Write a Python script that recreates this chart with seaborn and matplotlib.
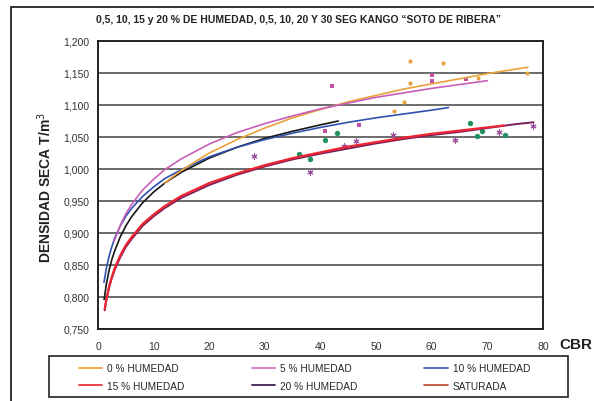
import matplotlib
matplotlib.use("Agg")
import matplotlib.pyplot as plt
from matplotlib.lines import Line2D
from matplotlib.patches import Rectangle
import pandas as pd
import seaborn as sns

# ---- trend curves (CBR vs dry density) ----
x_0 = [12, 15, 20, 25, 30, 35, 40, 45, 50, 55, 60, 65, 70, 75, 77.3]
y_0 = [0.978, 0.998, 1.025, 1.046, 1.064, 1.080, 1.093, 1.105, 1.115,
       1.125, 1.133, 1.141, 1.149, 1.156, 1.159]

x_5 = [2.9, 4, 5, 6, 8, 10, 12, 15, 20, 25, 30, 35, 40, 45, 50, 55, 60, 65, 70]
y_5 = [0.887, 0.912, 0.930, 0.944, 0.967, 0.984, 0.999, 1.016, 1.039, 1.057,
       1.071, 1.083, 1.094, 1.103, 1.112, 1.119, 1.126, 1.132, 1.138]

x_10 = [1.08, 1.5, 2, 2.5, 3, 4, 5, 6, 8, 10, 12, 15, 20, 25, 30, 35, 40, 45,
        50, 55, 60, 63]
y_10 = [0.823, 0.845, 0.864, 0.879, 0.892, 0.911, 0.926, 0.938, 0.957, 0.972,
        0.985, 0.999, 1.019, 1.034, 1.046, 1.056, 1.065, 1.073, 1.080, 1.086,
        1.092, 1.096]

x_15 = [1.2, 1.5, 2, 2.5, 3, 4, 5, 6, 8, 10, 12, 15, 20, 25, 30, 35, 40, 45,
        50, 55, 60, 65, 70, 73]
y_15 = [0.781, 0.796, 0.817, 0.832, 0.845, 0.865, 0.881, 0.893, 0.914, 0.929,
        0.942, 0.958, 0.978, 0.993, 1.006, 1.017, 1.026, 1.035, 1.042, 1.049,
        1.055, 1.060, 1.065, 1.068]

x_20 = [1.1, 1.5, 2, 2.5, 3, 4, 5, 6, 8, 10, 12, 15, 20, 25, 30, 35, 40, 43.2]
y_20 = [0.796, 0.820, 0.842, 0.859, 0.872, 0.894, 0.911, 0.925, 0.947, 0.964,
        0.978, 0.995, 1.017, 1.034, 1.048, 1.059, 1.069, 1.075]

x_sat = [1.2, 1.5, 2, 2.5, 3, 4, 5, 6, 8, 10, 12, 15, 20, 25, 30, 35, 40, 45,
         50, 55, 60, 65, 70, 75, 78.3]
y_sat = [0.779, 0.795, 0.815, 0.830, 0.842, 0.862, 0.878, 0.890, 0.911, 0.926,
         0.939, 0.955, 0.975, 0.991, 1.004, 1.015, 1.024, 1.032, 1.040, 1.047,
         1.053, 1.058, 1.064, 1.070, 1.073]

# ---- measured points ----
pts_0_x = [56.1, 62.0, 56.1, 55.1, 53.2, 68.3, 77.1]
pts_0_y = [1.168, 1.165, 1.134, 1.104, 1.090, 1.142, 1.150]

pts_5_x = [42.1, 60.0, 60.0, 66.1, 40.8, 47.0]
pts_5_y = [1.129, 1.147, 1.137, 1.140, 1.060, 1.068]

pts_15_x = [40.8, 43.0, 66.9, 69.0, 68.1, 73.2, 36.1, 38.1]
pts_15_y = [1.045, 1.057, 1.072, 1.060, 1.052, 1.053, 1.023, 1.015]

pts_sat_x = [28.1, 38.1, 44.2, 46.3, 53.1, 64.1, 72.1, 78.2]
pts_sat_y = [1.021, 0.996, 1.036, 1.044, 1.053, 1.046, 1.058, 1.067]

series = ["0 % HUMEDAD", "5 % HUMEDAD", "10 % HUMEDAD",
          "15 % HUMEDAD", "20 % HUMEDAD", "SATURADA"]
curve_x = [x_0, x_5, x_10, x_15, x_20, x_sat]
curve_y = [y_0, y_5, y_10, y_15, y_20, y_sat]

line_colors = {"0 % HUMEDAD": "#E9A23B", "5 % HUMEDAD": "#C95FB9",
               "10 % HUMEDAD": "#3152AE", "15 % HUMEDAD": "#EE2530",
               "20 % HUMEDAD": "#161616", "SATURADA": "#7A1F5E"}
legend_colors = ["#F2A542", "#D274C4", "#4866B4",
                 "#E8303A", "#3E2150", "#C0533D"]

curves = pd.concat(
    [pd.DataFrame({"CBR": cx, "dens": cy, "serie": s})
     for s, cx, cy in zip(series, curve_x, curve_y)],
    ignore_index=True)

sns.set_style("white")
plt.rcParams["font.family"] = ["Liberation Sans", "DejaVu Sans"]

fig = plt.figure(figsize=(5.94, 4.02), dpi=100)
ax = fig.add_axes([98 / 594, 1 - 330 / 402, 445 / 594, 288 / 402])

# outer frame of the sheet
fig.add_artist(Rectangle((11 / 594, -0.05), 1.2, 1 - 8 / 402 + 0.05,
                         transform=fig.transFigure, fill=False,
                         edgecolor="#333333", linewidth=1.4))

draw_order = ["SATURADA", "15 % HUMEDAD", "20 % HUMEDAD",
              "10 % HUMEDAD", "0 % HUMEDAD", "5 % HUMEDAD"]
widths = {"15 % HUMEDAD": 1.6, "SATURADA": 1.4}
for s in draw_order:
    sns.lineplot(data=curves[curves["serie"] == s], x="CBR", y="dens",
                 color=line_colors[s], linewidth=widths.get(s, 1.2),
                 estimator=None, sort=False, legend=False, ax=ax)

sns.scatterplot(x=pts_0_x, y=pts_0_y, color="#E9A23B", s=9, marker="o",
                linewidth=0, ax=ax, legend=False)
sns.scatterplot(x=pts_5_x, y=pts_5_y, color="#C050A8", s=8, marker="s",
                linewidth=0, ax=ax, legend=False)
sns.scatterplot(x=pts_15_x, y=pts_15_y, color="#1E9160", s=15, marker="o",
                linewidth=0, ax=ax, legend=False)
sns.scatterplot(x=pts_sat_x, y=pts_sat_y, color="#9A4E9C", s=14,
                marker=(6, 2, 0), linewidth=0.8, ax=ax, legend=False)

ax.set_xlim(0, 80)
ax.set_ylim(0.75, 1.2)
ax.set_xticks(range(0, 81, 10))
yt = [0.75 + 0.05 * i for i in range(10)]
ax.set_yticks(yt)
ax.set_yticklabels([f"{v:.3f}".replace(".", ",") for v in yt])
ax.tick_params(axis="both", length=0, labelsize=7.5, colors="#333333", pad=6)
ax.tick_params(axis="x", pad=9)
ax.grid(axis="y", color="#444444", linewidth=1.1)
ax.set_axisbelow(True)
for sp in ax.spines.values():
    sp.set_color("#222222")
    sp.set_linewidth(1.4)
ax.set_xlabel("")
ax.set_ylabel("")

fig.text(299 / 594, 1 - 20 / 402,
         "0,5, 10, 15 y 20 % DE HUMEDAD, 0,5, 10, 20 Y 30 SEG KANGO \u201cSOTO DE RIBERA\u201d",
         ha="center", va="center", fontsize=7.5, fontweight="bold", color="#222222")
fig.text(45 / 594, 1 - 188 / 402, "DENSIDAD SECA T/m$^3$", rotation=90,
         ha="center", va="center", fontsize=10, fontweight="bold", color="#222222")
fig.text(576 / 594, 1 - 345 / 402, "CBR", ha="center", va="center",
         fontsize=11, fontweight="bold", color="#222222")

# legend box, with the entries laid out row by row inside it
fig.add_artist(Rectangle((49 / 594, 1 - 398 / 402), 519 / 594, 41 / 402,
                         transform=fig.transFigure, fill=False,
                         edgecolor="#222222", linewidth=1.2))
handles = [Line2D([], [], color=c, linewidth=1.3) for c in legend_colors]
order = [0, 3, 1, 4, 2, 5]
leg = fig.legend([handles[i] for i in order], [series[i] for i in order],
                 ncol=3, loc="center left",
                 bbox_to_anchor=(79 / 594, 1 - 378 / 402),
                 frameon=False, fontsize=7.3, handlelength=2.3,
                 handletextpad=0.5, columnspacing=6.6, labelspacing=0.75,
                 borderpad=0, borderaxespad=0)

fig.savefig("out.png", dpi=100)
